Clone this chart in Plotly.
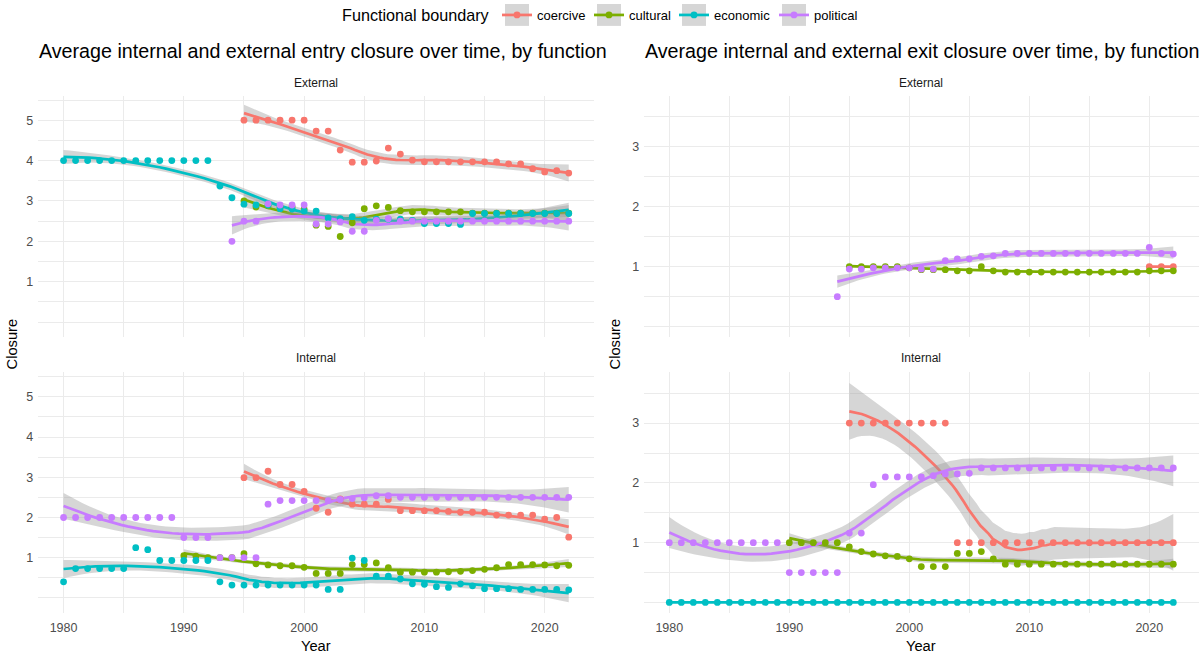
import numpy as np
import plotly.graph_objects as go

W, H = 1203, 655

# ---------------- data ----------------
CATS = ["coercive", "cultural", "economic", "political"]
COLORS = {"coercive": "#F8766D", "cultural": "#7CAE00",
          "economic": "#00BFC4", "political": "#C77CFF"}

# Entry closure - External
entry_ext_coercive_years = list(range(1995, 2023))
entry_ext_coercive = [5.00, 5.00, 5.00, 5.00, 5.00, 5.00, 4.73, 4.73, 4.26, 3.96,
                      3.96, 3.99, 4.31, 4.16, 4.01, 3.97, 3.97, 3.97, 3.97, 3.97,
                      3.97, 3.97, 3.92, 3.92, 3.80, 3.72, 3.75, 3.69]
entry_ext_cultural_years = list(range(1995, 2023))
entry_ext_cultural = [3.00, 2.85, 2.88, 2.85, 2.85, 2.80, 2.40, 2.37, 2.12, 2.46,
                      2.81, 2.88, 2.84, 2.76, 2.73, 2.73, 2.73, 2.73, 2.73, 2.70,
                      2.70, 2.70, 2.70, 2.70, 2.70, 2.70, 2.70, 2.70]
entry_ext_economic_years = list(range(1980, 2023))
entry_ext_economic = [4.00, 4.00, 4.00, 4.00, 4.00, 4.00, 4.00, 4.00, 4.00, 4.00,
                      4.00, 4.00, 4.00, 3.37, 3.08, 2.92, 2.90, 2.90, 2.81, 2.80,
                      2.75, 2.75, 2.58, 2.56, 2.61, 2.52, 2.55, 2.55, 2.55, 2.52,
                      2.44, 2.44, 2.44, 2.42, 2.69, 2.69, 2.69, 2.69, 2.69, 2.69,
                      2.69, 2.69, 2.69]
entry_ext_political_years = list(range(1994, 2023))
entry_ext_political = [2.00, 2.50, 2.50, 2.93, 2.90, 2.90, 2.90, 2.43, 2.43, 2.48,
                       2.25, 2.25, 2.52, 2.56, 2.50, 2.50, 2.50, 2.50, 2.50, 2.50,
                       2.50, 2.50, 2.50, 2.50, 2.50, 2.50, 2.50, 2.50, 2.50]

# Entry closure - Internal
entry_int_coercive_years = list(range(1995, 2023))
entry_int_coercive = [2.99, 2.99, 3.15, 2.82, 2.82, 2.65, 2.23, 2.13, 2.46, 2.33,
                      2.33, 2.33, 2.45, 2.17, 2.17, 2.17, 2.17, 2.15, 2.13, 2.13,
                      2.13, 2.06, 2.06, 2.06, 2.06, 1.96, 2.00, 1.51]
entry_int_cultural_years = list(range(1990, 2023))
entry_int_cultural = [1.05, 1.04, 1.00, 1.00, 1.00, 1.10, 0.85, 0.82, 0.80, 0.80,
                      0.76, 0.61, 0.61, 0.61, 0.83, 0.83, 0.87, 0.75, 0.64, 0.64,
                      0.64, 0.64, 0.65, 0.66, 0.68, 0.71, 0.75, 0.83, 0.83, 0.83,
                      0.82, 0.80, 0.81]
entry_int_economic_years = list(range(1980, 2023))
entry_int_economic = [0.40, 0.73, 0.73, 0.73, 0.73, 0.73, 1.25, 1.20, 0.93, 0.93,
                      0.93, 0.93, 0.93, 0.40, 0.32, 0.32, 0.32, 0.32, 0.32, 0.32,
                      0.32, 0.32, 0.21, 0.21, 0.99, 0.93, 0.54, 0.54, 0.47, 0.35,
                      0.34, 0.28, 0.26, 0.35, 0.30, 0.23, 0.23, 0.23, 0.21, 0.21,
                      0.21, 0.21, 0.20]
entry_int_political_years = list(range(1980, 2023))
entry_int_political = [2.00, 2.00, 2.00, 2.00, 2.00, 2.00, 2.00, 2.00, 2.00, 2.00,
                       1.50, 1.50, 1.50, 1.00, 1.00, 1.00, 1.00, 2.33, 2.42, 2.42,
                       2.42, 2.42, 2.42, 2.45, 2.47, 2.49, 2.54, 2.54, 2.50, 2.50,
                       2.50, 2.50, 2.50, 2.50, 2.50, 2.50, 2.50, 2.50, 2.50, 2.50,
                       2.50, 2.50, 2.50]

# Exit closure - External
exit_ext_coercive_years = list(range(2020, 2023))
exit_ext_coercive = [1.00, 1.00, 1.00]
exit_ext_cultural_years = list(range(1995, 2023))
exit_ext_cultural = [1.00, 1.00, 1.00, 1.00, 1.00, 0.98, 0.95, 0.95, 0.95, 0.93,
                     0.93, 1.00, 0.93, 0.91, 0.91, 0.91, 0.91, 0.91, 0.91, 0.91,
                     0.91, 0.91, 0.91, 0.91, 0.91, 0.93, 0.93, 0.93]
exit_ext_political_years = list(range(1994, 2023))
exit_ext_political = [0.50, 0.96, 0.96, 0.98, 0.98, 0.98, 0.98, 0.96, 0.96, 1.10,
                      1.13, 1.13, 1.17, 1.18, 1.22, 1.22, 1.22, 1.22, 1.22, 1.22,
                      1.22, 1.22, 1.22, 1.22, 1.22, 1.22, 1.32, 1.22, 1.21]

# Exit closure - Internal
exit_int_coercive_years = list(range(1995, 2023))
exit_int_coercive = [3.00, 3.00, 3.00, 3.00, 3.00, 3.00, 3.00, 3.00, 3.00, 1.00,
                     1.00, 1.00, 1.00, 1.00, 1.00, 1.00, 1.00, 1.00, 1.00, 1.00,
                     1.00, 1.00, 1.00, 1.00, 1.00, 1.00, 1.00, 1.00]
exit_int_cultural_years = list(range(1990, 2023))
exit_int_cultural = [1.00, 1.00, 1.00, 1.00, 1.00, 0.93, 0.85, 0.81, 0.78, 0.77,
                     0.73, 0.60, 0.60, 0.60, 0.82, 0.82, 0.85, 0.73, 0.64, 0.64,
                     0.64, 0.64, 0.64, 0.64, 0.64, 0.64, 0.64, 0.64, 0.64, 0.64,
                     0.64, 0.64, 0.64]
exit_int_economic_years = list(range(1980, 2023))
exit_int_economic = [0.00, 0.00, 0.00, 0.00, 0.00, 0.00, 0.00, 0.00, 0.00, 0.00,
                     0.00, 0.00, 0.00, 0.00, 0.00, 0.00, 0.00, 0.00, 0.00, 0.00,
                     0.00, 0.00, 0.00, 0.00, 0.00, 0.00, 0.00, 0.00, 0.00, 0.00,
                     0.00, 0.00, 0.00, 0.00, 0.00, 0.00, 0.00, 0.00, 0.00, 0.00,
                     0.00, 0.00, 0.00]
exit_int_political_years = list(range(1980, 2023))
exit_int_political = [1.00, 1.00, 1.00, 1.00, 1.00, 1.00, 1.00, 1.00, 1.00, 1.00,
                      0.50, 0.50, 0.50, 0.50, 0.50, 1.16, 1.16, 1.97, 2.10, 2.10,
                      2.10, 2.10, 2.12, 2.15, 2.15, 2.16, 2.25, 2.25, 2.25, 2.25,
                      2.25, 2.25, 2.25, 2.25, 2.25, 2.25, 2.25, 2.25, 2.25, 2.25,
                      2.25, 2.25, 2.25]

ENTRY_TICKS = [1, 2, 3, 4, 5]
EXIT_TICKS = [1, 2, 3]
YEAR_TICKS = [1980, 1990, 2000, 2010, 2020]

TITLE_ENTRY = "Average internal and external entry closure over time, by function"
TITLE_EXIT = "Average internal and external exit closure over time, by function"
LEGEND_TITLE = "Functional boundary"

# panel -> {category: (years, values)}
PANELS = {
    ("x", "y"): {"coercive": (entry_ext_coercive_years, entry_ext_coercive),
                 "cultural": (entry_ext_cultural_years, entry_ext_cultural),
                 "economic": (entry_ext_economic_years, entry_ext_economic),
                 "political": (entry_ext_political_years, entry_ext_political)},
    ("x3", "y3"): {"coercive": (entry_int_coercive_years, entry_int_coercive),
                   "cultural": (entry_int_cultural_years, entry_int_cultural),
                   "economic": (entry_int_economic_years, entry_int_economic),
                   "political": (entry_int_political_years, entry_int_political)},
    ("x2", "y2"): {"coercive": (exit_ext_coercive_years, exit_ext_coercive),
                   "cultural": (exit_ext_cultural_years, exit_ext_cultural),
                   "political": (exit_ext_political_years, exit_ext_political)},
    ("x4", "y4"): {"coercive": (exit_int_coercive_years, exit_int_coercive),
                   "cultural": (exit_int_cultural_years, exit_int_cultural),
                   "economic": (exit_int_economic_years, exit_int_economic),
                   "political": (exit_int_political_years, exit_int_political)},
}


# ---------------- loess smoother (like geom_smooth default) ----------------
def t975(df):
    z = 1.959963985
    v = max(df, 1.0)
    g1 = (z**3 + z) / 4
    g2 = (5 * z**5 + 16 * z**3 + 3 * z) / 96
    g3 = (3 * z**7 + 19 * z**5 + 17 * z**3 - 15 * z) / 384
    g4 = (79 * z**9 + 776 * z**7 + 1482 * z**5 - 1920 * z**3 - 945 * z) / 92160
    return z + g1 / v + g2 / v**2 + g3 / v**3 + g4 / v**4


def loess(x, y, xo, span=0.75, degree=2):
    x = np.asarray(x, float)
    y = np.asarray(y, float)
    xo = np.asarray(xo, float)
    n = len(x)
    if np.ptp(y) < 1e-12:
        f = np.full(len(xo), y[0])
        return f, f, f
    q = max(int(np.floor(n * span)), degree + 2)
    q = min(q, n)

    def row(x0):
        d = np.abs(x - x0)
        h = np.sort(d)[q - 1]
        if q >= n:
            h = h * max(1.0, span)
        h = max(h, 1e-9)
        u = d / h
        w = np.where(u < 1, (1 - u**3) ** 3, 0.0)
        X = np.vander(x - x0, degree + 1, increasing=True)
        WX = X * w[:, None]
        A = X.T @ WX
        return (np.linalg.pinv(A) @ WX.T)[0]

    L = np.array([row(v) for v in x])
    Lo = np.array([row(v) for v in xo])
    fit = Lo @ y
    res = y - L @ y
    IL = np.eye(n) - L
    M = IL.T @ IL
    d1 = np.trace(M)
    d2 = np.trace(M @ M)
    rss = float(res @ res)
    if d1 <= 1e-9 or rss <= 1e-12:
        return fit, fit, fit
    s = np.sqrt(rss / d1)
    se = s * np.sqrt(np.sum(Lo**2, axis=1))
    tq = t975(d1**2 / d2)
    return fit, fit - tq * se, fit + tq * se


# ---------------- figure ----------------
fig = go.Figure()
LINE_W = 2.7
MARK_SZ = 6.8

for (xa, ya), groups in PANELS.items():
    for cat in CATS:
        if cat not in groups:
            continue
        yrs, vals = groups[cat]
        xs = np.linspace(min(yrs), max(yrs), 80)
        fit, lo, hi = loess(yrs, vals, xs)
        fig.add_trace(go.Scatter(
            x=np.concatenate([xs, xs[::-1]]), y=np.concatenate([lo, hi[::-1]]),
            fill="toself", fillcolor="rgba(153,153,153,0.4)", mode="lines",
            line=dict(width=0, color="rgba(0,0,0,0)"), xaxis=xa, yaxis=ya,
            showlegend=False, hoverinfo="skip"))
        fig.add_trace(go.Scatter(
            x=xs, y=fit, mode="lines", line=dict(color=COLORS[cat], width=LINE_W),
            xaxis=xa, yaxis=ya, showlegend=False, hoverinfo="skip"))
    for cat in CATS:
        if cat not in groups:
            continue
        yrs, vals = groups[cat]
        fig.add_trace(go.Scatter(
            x=yrs, y=vals, mode="markers", name=cat,
            marker=dict(color=COLORS[cat], size=MARK_SZ),
            xaxis=xa, yaxis=ya, showlegend=False))

FONT = "Liberation Sans, Arial, Helvetica, sans-serif"
GRID = "#EBEBEB"
KEY_CX = [517, 609, 694, 794]     # legend key centres (px)
KEY_CY = 12

legend_layout = {}
shapes = []
for i, cat in enumerate(CATS):
    lname = "legend" if i == 0 else "legend%d" % (i + 1)
    fig.add_trace(go.Scatter(
        x=[None], y=[None], mode="lines+markers", name=cat, legend=lname,
        line=dict(color=COLORS[cat], width=LINE_W),
        marker=dict(color=COLORS[cat], size=MARK_SZ), showlegend=True))
    legend_layout[lname] = dict(
        orientation="h", x=(KEY_CX[i] - 20) / W, xanchor="left",
        y=1 - KEY_CY / H, yanchor="middle", bgcolor="rgba(0,0,0,0)", borderwidth=0,
        font=dict(size=13, color="#000000"), itemwidth=30)
    shapes.append(dict(type="rect", xref="paper", yref="paper",
                       x0=(KEY_CX[i] - 12) / W, x1=(KEY_CX[i] + 12) / W,
                       y0=1 - (KEY_CY + 11) / H, y1=1 - (KEY_CY - 11) / H,
                       fillcolor="#D6D6D6", line=dict(width=0), layer="below"))


def px_x(a, b):
    return [a / W, b / W]


def px_y(top, bottom):
    return [1 - bottom / H, 1 - top / H]


PL, PR = (38.3, 594.0), (644.1, 1198.5)
LEFT = px_x(*PL)
RIGHT = px_x(*PR)
TOP = px_y(93, 336)
BOT = px_y(371, 613)

TICKFONT = dict(size=12.5, color="#4D4D4D")
xcommon = dict(range=[1977.9, 2024.1], tickvals=YEAR_TICKS, showgrid=True,
               gridcolor=GRID, gridwidth=1.2, zeroline=False, showline=False,
               ticks="", tickfont=TICKFONT,
               minor=dict(dtick=5, tick0=1975, showgrid=True, gridcolor=GRID, gridwidth=0.7))
ycommon = dict(showgrid=True, gridcolor=GRID, gridwidth=1.2, zeroline=False,
               showline=False, ticks="", tickfont=TICKFONT,
               minor=dict(dtick=0.5, tick0=0, showgrid=True, gridcolor=GRID, gridwidth=0.7),
               ticklabelstandoff=4)

fig.update_layout(
    width=W, height=H, margin=dict(l=0, r=0, t=0, b=0),
    paper_bgcolor="white", plot_bgcolor="white",
    font=dict(family=FONT, color="#000000"),
    xaxis=dict(xcommon, domain=LEFT, anchor="y", showticklabels=False),
    xaxis2=dict(xcommon, domain=RIGHT, anchor="y2", showticklabels=False),
    xaxis3=dict(xcommon, domain=LEFT, anchor="y3", ticklabelstandoff=5),
    xaxis4=dict(xcommon, domain=RIGHT, anchor="y4", ticklabelstandoff=5),
    yaxis=dict(ycommon, domain=TOP, anchor="x", range=[-0.38, 5.61], tickvals=ENTRY_TICKS),
    yaxis3=dict(ycommon, domain=BOT, anchor="x3", range=[-0.38, 5.61], tickvals=ENTRY_TICKS),
    yaxis2=dict(ycommon, domain=TOP, anchor="x2", range=[-0.18, 3.85], tickvals=EXIT_TICKS),
    yaxis4=dict(ycommon, domain=BOT, anchor="x4", range=[-0.18, 3.85], tickvals=EXIT_TICKS),
    shapes=shapes,
    **legend_layout,
)

ann = [dict(x=492 / W, y=1 - KEY_CY / H, xref="paper", yref="paper", text=LEGEND_TITLE,
            showarrow=False, xanchor="right", yanchor="middle",
            font=dict(size=16.2, color="#000000"))]
for x0, text in [(PL[0] - 1.5, TITLE_ENTRY), (PR[0] - 1.5, TITLE_EXIT)]:
    ann.append(dict(x=x0 / W, y=1 - 48 / H, xref="paper", yref="paper", text=text,
                    showarrow=False, xanchor="left", yanchor="middle",
                    font=dict(size=19.7, color="#000000")))
for (a, b) in [PL, PR]:
    cx = (a + b) / 2
    ann.append(dict(x=cx / W, y=1 - 80 / H, xref="paper", yref="paper", text="External",
                    showarrow=False, xanchor="center", yanchor="middle",
                    font=dict(size=12, color="#1A1A1A")))
    ann.append(dict(x=cx / W, y=1 - 357 / H, xref="paper", yref="paper", text="Internal",
                    showarrow=False, xanchor="center", yanchor="middle",
                    font=dict(size=12, color="#1A1A1A")))
    ann.append(dict(x=cx / W, y=1 - 646 / H, xref="paper", yref="paper", text="Year",
                    showarrow=False, xanchor="center", yanchor="middle",
                    font=dict(size=14.7, color="#000000")))
for xc in [12, 615]:
    ann.append(dict(x=xc / W, y=1 - 343 / H, xref="paper", yref="paper", text="Closure",
                    showarrow=False, xanchor="center", yanchor="middle", textangle=-90,
                    font=dict(size=14.7, color="#000000")))
fig.update_layout(annotations=ann)

fig.write_html("out.html", config={"displayModeBar": False},
               post_script="document.body.style.margin='0px';"
                           "document.body.style.padding='0px';")
